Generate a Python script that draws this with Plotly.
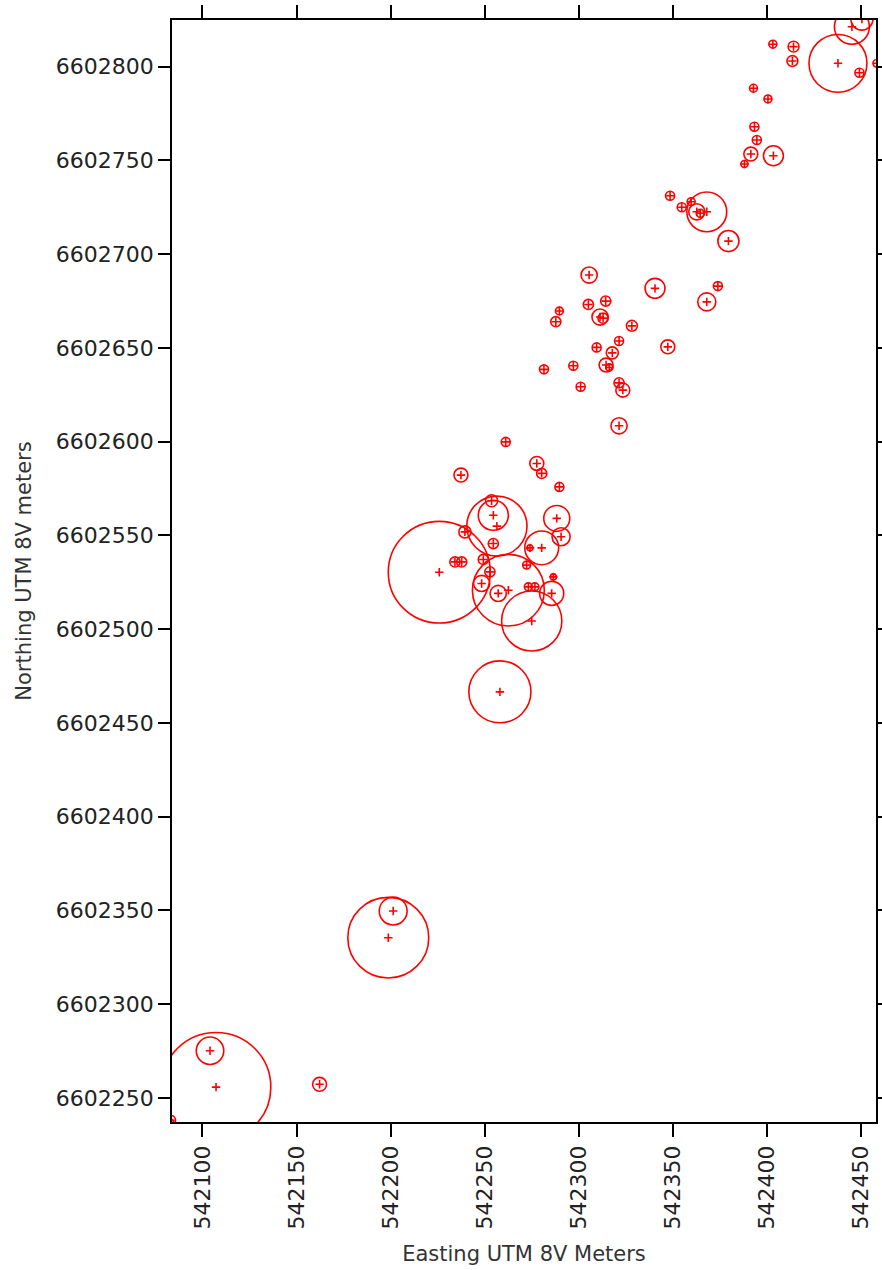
import plotly.graph_objects as go

# Sample locations (UTM zone 8V) and the radius of each circle in metres
easting = [
    542437.6, 542445.0, 542450.3, 542403.0, 542414.0, 542413.4, 542458.3, 542449.0,
    542392.7, 542400.4, 542393.2, 542394.5, 542391.3, 542387.9, 542403.3,
    542348.4, 542354.6, 542359.6, 542362.6, 542364.4, 542367.9, 542379.4,
    542305.4, 542340.4, 542373.8, 542367.9, 542305.0, 542314.2, 542289.6,
    542311.2, 542312.8, 542287.7, 542328.1, 542321.3, 542309.4, 542317.7,
    542314.4, 542316.1, 542297.0, 542281.4, 542347.2, 542300.9, 542321.3,
    542323.3, 542321.3, 542261.1, 542237.3, 542277.6, 542280.2, 542289.6,
    542253.6, 542254.5, 542239.4, 542254.5, 542234.1, 542237.7, 542225.8,
    542249.2, 542252.7, 542248.3, 542257.1, 542262.5, 542274.9, 542274.0,
    542280.2, 542288.2, 542290.5, 542285.5, 542272.2, 542273.1, 542276.6,
    542286.4, 542256.4, 542258.0, 542198.7, 542201.3, 542107.2, 542104.0,
    542162.2, 542083.0,
]
northing = [
    6602801.8, 6602821.3, 6602825.4, 6602812.0, 6602810.7, 6602803.0, 6602801.8, 6602796.8,
    6602788.5, 6602782.8, 6602768.0, 6602760.9, 6602753.4, 6602748.1, 6602752.5,
    6602731.2, 6602725.0, 6602728.0, 6602722.6, 6602721.8, 6602722.6, 6602707.0,
    6602688.9, 6602681.8, 6602683.0, 6602674.6, 6602673.2, 6602675.0, 6602669.7,
    6602666.5, 6602665.9, 6602664.0, 6602661.8, 6602653.7, 6602650.3, 6602647.4,
    6602640.9, 6602639.6, 6602640.5, 6602638.6, 6602650.6, 6602629.3, 6602631.4,
    6602627.5, 6602608.5, 6602599.9, 6602582.2, 6602588.4, 6602583.1, 6602575.9,
    6602568.5, 6602560.8, 6602551.9, 6602545.7, 6602535.9, 6602535.9, 6602530.4,
    6602537.2, 6602530.6, 6602524.4, 6602519.1, 6602520.8, 6602504.4, 6602543.4,
    6602543.4, 6602559.1, 6602549.3, 6602519.1, 6602534.2, 6602522.6, 6602522.6,
    6602527.9, 6602555.0, 6602466.6, 6602335.5, 6602349.7, 6602255.8, 6602275.2,
    6602257.3, 6602238.1,
]
radius_m = [
    15.4, 9.3, 5.9, 2.1, 2.9, 2.9, 2.1, 2.4,
    2.1, 2.1, 2.4, 2.4, 3.7, 1.9, 5.3,
    2.4, 2.4, 2.1, 4.3, 2.1, 10.6, 5.6,
    4.3, 5.3, 2.4, 4.8, 2.7, 2.7, 2.1,
    4.3, 2.7, 2.7, 2.9, 2.4, 2.4, 3.2,
    3.7, 1.9, 2.4, 2.4, 3.7, 2.4, 2.7,
    3.7, 4.3, 2.4, 3.7, 3.7, 2.7, 2.4,
    3.2, 8.0, 3.2, 2.7, 2.7, 2.7, 27.1,
    2.7, 2.7, 4.3, 4.3, 19.1, 16.0, 1.6,
    9.0, 6.9, 4.8, 6.4, 2.1, 2.1, 2.1,
    1.6, 16.0, 16.5, 21.5, 7.4, 29.1, 7.3,
    3.7, 2.7,
]

x_ticks = [542100, 542150, 542200, 542250, 542300, 542350, 542400, 542450]
y_ticks = [6602250, 6602300, 6602350, 6602400, 6602450, 6602500, 6602550,
           6602600, 6602650, 6602700, 6602750, 6602800]

RED = "#ff0000"
fig = go.Figure()

# centre crosses
fig.add_trace(go.Scatter(
    x=easting, y=northing, mode="markers",
    marker=dict(symbol="cross-thin", size=6, line=dict(color=RED, width=1.6), color=RED),
    showlegend=False, hoverinfo="x+y",
))

# circles in map units around each location
shapes = []
for e, n, r in zip(easting, northing, radius_m):
    shapes.append(dict(
        type="circle", xref="x", yref="y",
        x0=e - r, x1=e + r, y0=n - r, y1=n + r,
        line=dict(color=RED, width=1.6), layer="above",
    ))

axis_font = dict(family="DejaVu Sans", size=22, color="#222222")
title_font = dict(family="DejaVu Sans", size=21, color="#333333")

fig.update_layout(
    width=882, height=1270,
    margin=dict(l=172, r=6, t=20, b=148),
    paper_bgcolor="white", plot_bgcolor="white",
    shapes=shapes,
    xaxis=dict(
        range=[542083.8, 542457.8], tickvals=x_ticks,
        ticktext=[str(v) for v in x_ticks], tickangle=-90, automargin=False,
        ticks="outside", ticklen=13, tickcolor="black", tickwidth=1.5,
        showline=True, linecolor="black", linewidth=1.5, mirror="ticks",
        showgrid=False, zeroline=False, tickfont=axis_font,
        title=dict(text="Easting UTM 8V Meters", font=title_font, standoff=18),
    ),
    yaxis=dict(
        range=[6602237.2, 6602824.9], tickvals=y_ticks, automargin=False,
        ticktext=[str(v) for v in y_ticks],
        ticks="outside", ticklen=12, tickcolor="black", tickwidth=1.5,
        showline=True, linecolor="black", linewidth=1.5, mirror="ticks",
        showgrid=False, zeroline=False, tickfont=axis_font,
        title=dict(text="Northing UTM 8V meters", font=title_font, standoff=19),
    ),
)

fig.write_html("out.html")
